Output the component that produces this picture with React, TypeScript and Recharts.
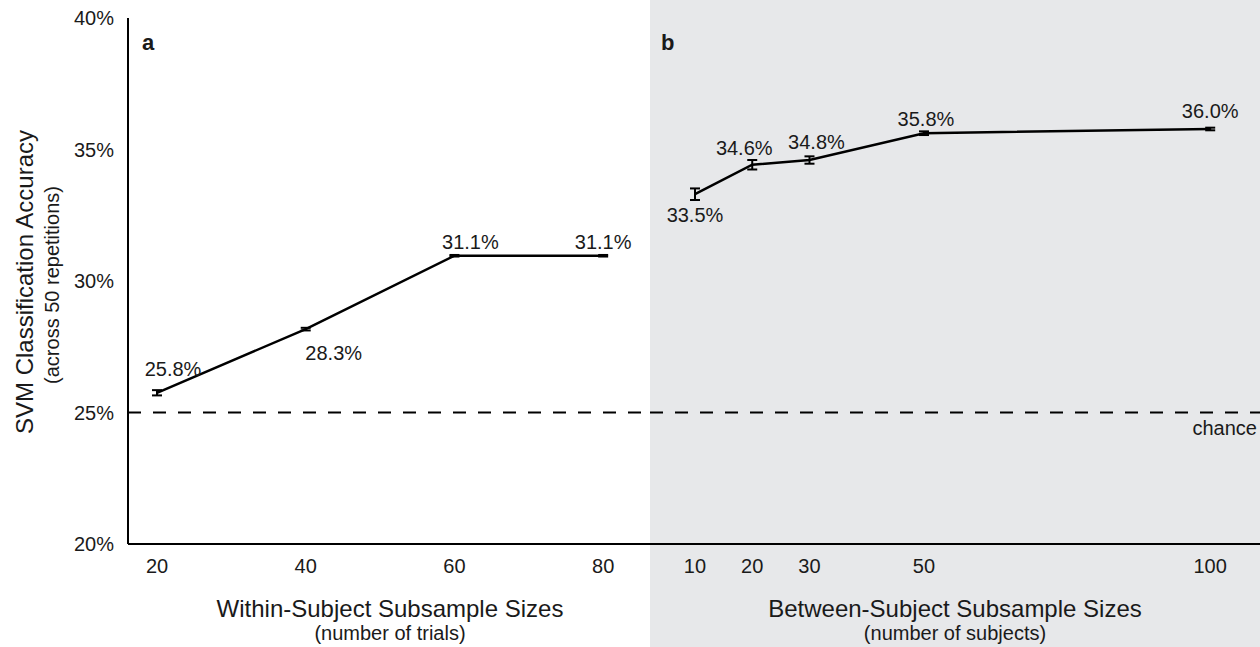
import { LineChart, Line, XAxis, YAxis, ReferenceLine, ErrorBar, LabelList } from "recharts"

// panel a: within-subject subsample sizes (number of trials)
const withinSizes = [20, 40, 60, 80]
const withinAcc = [25.75, 28.17, 30.96, 30.96]
const withinErr = [0.1, 0.05, 0.03, 0.03]
const withinLabels = ["25.8%", "28.3%", "31.1%", "31.1%"]

// panel b: between-subject subsample sizes (number of subjects)
const betweenSizes = [10, 20, 30, 50, 100]
const betweenAcc = [33.3, 34.42, 34.6, 35.62, 35.78]
const betweenErr = [0.22, 0.18, 0.14, 0.07, 0.05]
const betweenLabels = ["33.5%", "34.6%", "34.8%", "35.8%", "36.0%"]

const yTicks = [20, 25, 30, 35, 40]
const chanceLevel = 25

const withinData = withinSizes.map((n, i) => ({ n, acc: withinAcc[i], err: withinErr[i], label: withinLabels[i] }))
const betweenData = betweenSizes.map((n, i) => ({ n, acc: betweenAcc[i], err: betweenErr[i], label: betweenLabels[i] }))

// label placement around each point (dx, dy)
const withinLabelOffsets = [[16, -24], [28, 24], [16, -14], [0, -14]]
const betweenLabelOffsets = [[0, 21], [-8, -17], [7, -18], [2, -14], [0, -18]]

const FONT = "'Liberation Sans', Arial, sans-serif"
const INK = "#1a1a1a"
const GREY = "#e7e8ea"
const H = 647
// bottom margin + default x axis height (30) puts the baseline at y=544
const MARGIN = { top: 18, right: 0, bottom: 73, left: 0 }

const makeLabel = (offsets: number[][]) => (props: any) => {
    const { x, y, index, value } = props
    const [dx, dy] = offsets[index] || [0, -14]
    return (
        <text x={x + dx} y={y + dy} textAnchor="middle" dominantBaseline="central" fontSize={20} fill={INK} fontFamily={FONT}>
            {value}
        </text>
    )
}

const tickStyle = { fontSize: 20, fill: INK, fontFamily: FONT }

export default function App() {
    return (
        <div style={{ position: "relative", width: 1260, height: H, background: "#fff", fontFamily: FONT }}>
            <style>{`body{margin:0}`}</style>
            <div style={{ position: "absolute", left: 650, top: 0, width: 610, height: H, background: GREY }} />

            <div style={{ position: "absolute", left: 0, top: 0 }}>
                <LineChart width={650} height={H} data={withinData} margin={MARGIN}>
                    <YAxis
                        type="number"
                        domain={[20, 40]}
                        ticks={yTicks}
                        width={128}
                        tickSize={0}
                        tickMargin={14}
                        tickLine={false}
                        axisLine={{ stroke: "#000", strokeWidth: 2 }}
                        tick={tickStyle}
                        tickFormatter={(v: number) => `${v}%`}
                    />
                    <XAxis
                        dataKey="n"
                        type="number"
                        domain={[16.1, 86.3]}
                        ticks={withinSizes}
                        interval={0}
                        tickSize={0}
                        tickMargin={15}
                        tickLine={false}
                        axisLine={{ stroke: "#000", strokeWidth: 2 }}
                        tick={tickStyle}
                    />
                    <ReferenceLine y={chanceLevel} stroke="#000" strokeWidth={2} strokeDasharray="13 12" />
                    <Line dataKey="acc" stroke="#000" strokeWidth={2.5} dot={false} isAnimationActive={false}>
                        <ErrorBar dataKey="err" width={5} strokeWidth={2} stroke="#000" direction="y" />
                        <LabelList dataKey="label" content={makeLabel(withinLabelOffsets)} />
                    </Line>
                </LineChart>
            </div>

            <div style={{ position: "absolute", left: 650, top: 0 }}>
                <LineChart width={610} height={H} data={betweenData} margin={MARGIN}>
                    <YAxis hide type="number" domain={[20, 40]} ticks={yTicks} />
                    <XAxis
                        dataKey="n"
                        type="number"
                        domain={[2.14, 108.7]}
                        ticks={betweenSizes}
                        interval={0}
                        tickSize={0}
                        tickMargin={15}
                        tickLine={false}
                        axisLine={{ stroke: "#000", strokeWidth: 2 }}
                        tick={tickStyle}
                    />
                    <ReferenceLine y={chanceLevel} stroke="#000" strokeWidth={2} strokeDasharray="13 12" />
                    <Line dataKey="acc" stroke="#000" strokeWidth={2.5} dot={false} isAnimationActive={false}>
                        <ErrorBar dataKey="err" width={5} strokeWidth={2} stroke="#000" direction="y" />
                        <LabelList dataKey="label" content={makeLabel(betweenLabelOffsets)} />
                    </Line>
                </LineChart>
            </div>

            {/* titles and annotations */}
            <svg width={1260} height={H} style={{ position: "absolute", left: 0, top: 0, pointerEvents: "none" }} fontFamily={FONT} fill={INK}>
                <text x={142} y={50} fontSize={22} fontWeight="bold">a</text>
                <text x={661} y={50} fontSize={22} fontWeight="bold">b</text>
                <text transform="translate(24,282) rotate(-90)" textAnchor="middle" dominantBaseline="central" fontSize={24}>
                    SVM Classification Accuracy
                </text>
                <text transform="translate(52,285) rotate(-90)" textAnchor="middle" dominantBaseline="central" fontSize={20}>
                    (across 50 repetitions)
                </text>
                <text x={390} y={608} textAnchor="middle" dominantBaseline="central" fontSize={24}>Within-Subject Subsample Sizes</text>
                <text x={390} y={633} textAnchor="middle" dominantBaseline="central" fontSize={20}>(number of trials)</text>
                <text x={955} y={608} textAnchor="middle" dominantBaseline="central" fontSize={24}>Between-Subject Subsample Sizes</text>
                <text x={955} y={633} textAnchor="middle" dominantBaseline="central" fontSize={20}>(number of subjects)</text>
                <text x={1257} y={428} textAnchor="end" dominantBaseline="central" fontSize={20}>chance</text>
            </svg>
        </div>
    )
}
